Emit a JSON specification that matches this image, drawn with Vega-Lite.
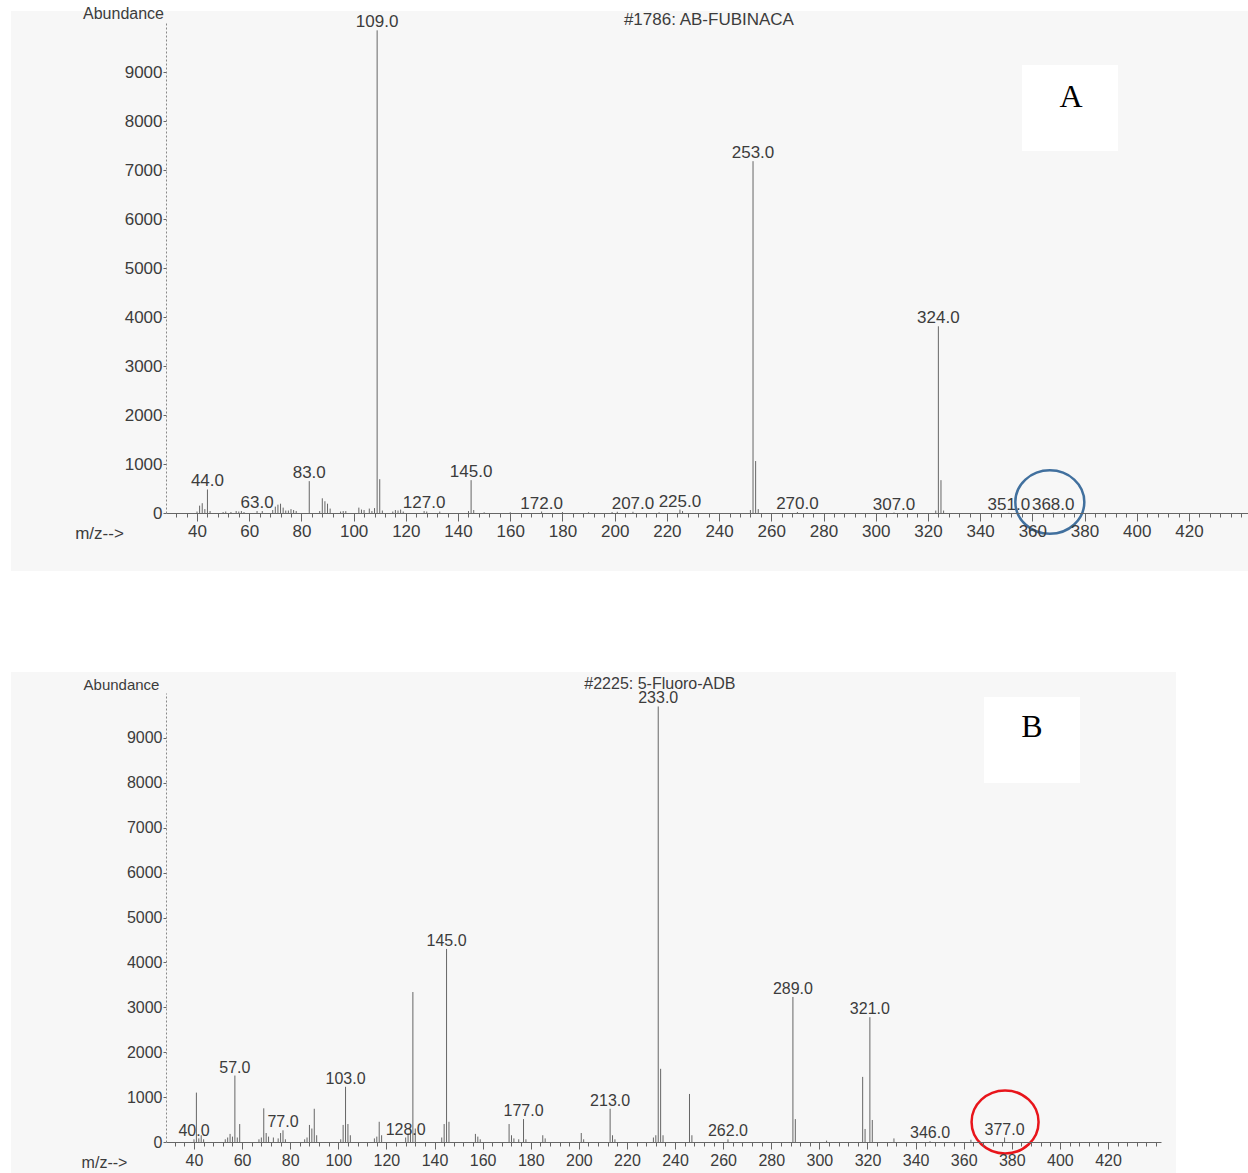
{
  "$schema": "https://vega.github.io/schema/vega-lite/v6.json",
  "background": "white",
  "padding": {"left": 10, "top": 5, "right": 0, "bottom": 0},
  "spacing": 99,
  "config": {
    "font": "Liberation Sans",
    "view": {"stroke": null},
    "axis": {"zindex": 2, "grid": false, "labelColor": "#3c3c3c", "titleColor": "#3c3c3c", "titleFontWeight": "normal", "tickColor": "#666", "domainColor": "#666"}
  },
  "datasets": {
    "a": [
      {"mz": 40, "ab": 30}, {"mz": 41, "ab": 150}, {"mz": 42, "ab": 200}, {"mz": 43, "ab": 80},
      {"mz": 44, "ab": 480, "label": "44.0"}, {"mz": 45, "ab": 40}, {"mz": 50, "ab": 20}, {"mz": 51, "ab": 30},
      {"mz": 53, "ab": 20}, {"mz": 55, "ab": 40}, {"mz": 56, "ab": 30}, {"mz": 57, "ab": 40}, {"mz": 58, "ab": 20},
      {"mz": 63, "ab": 40, "label": "63.0"}, {"mz": 65, "ab": 40}, {"mz": 69, "ab": 60}, {"mz": 70, "ab": 130},
      {"mz": 71, "ab": 170}, {"mz": 72, "ab": 190}, {"mz": 73, "ab": 110}, {"mz": 74, "ab": 50}, {"mz": 75, "ab": 50},
      {"mz": 76, "ab": 80}, {"mz": 77, "ab": 60}, {"mz": 78, "ab": 40}, {"mz": 83, "ab": 650, "label": "83.0"},
      {"mz": 87, "ab": 40}, {"mz": 88, "ab": 300}, {"mz": 89, "ab": 240}, {"mz": 90, "ab": 190}, {"mz": 91, "ab": 90},
      {"mz": 95, "ab": 30}, {"mz": 96, "ab": 40}, {"mz": 97, "ab": 40}, {"mz": 102, "ab": 110}, {"mz": 103, "ab": 70},
      {"mz": 104, "ab": 60}, {"mz": 106, "ab": 90}, {"mz": 107, "ab": 40}, {"mz": 108, "ab": 100},
      {"mz": 109, "ab": 9850, "label": "109.0"}, {"mz": 110, "ab": 690}, {"mz": 111, "ab": 50}, {"mz": 115, "ab": 30},
      {"mz": 116, "ab": 60}, {"mz": 117, "ab": 50}, {"mz": 118, "ab": 70}, {"mz": 119, "ab": 30},
      {"mz": 127, "ab": 40, "label": "127.0"}, {"mz": 128, "ab": 30}, {"mz": 133, "ab": 30}, {"mz": 144, "ab": 40},
      {"mz": 145, "ab": 670, "label": "145.0"}, {"mz": 146, "ab": 60}, {"mz": 150, "ab": 15}, {"mz": 160, "ab": 15},
      {"mz": 172, "ab": 30, "label": "172.0"}, {"mz": 180, "ab": 20}, {"mz": 190, "ab": 15}, {"mz": 199, "ab": 20},
      {"mz": 201, "ab": 25}, {"mz": 207, "ab": 25, "label": "207.0"}, {"mz": 217, "ab": 15},
      {"mz": 225, "ab": 70, "label": "225.0"}, {"mz": 226, "ab": 40}, {"mz": 252, "ab": 60},
      {"mz": 253, "ab": 7180, "label": "253.0"}, {"mz": 254, "ab": 1060}, {"mz": 255, "ab": 80},
      {"mz": 270, "ab": 20, "label": "270.0"}, {"mz": 307, "ab": 10, "label": "307.0"}, {"mz": 323, "ab": 50},
      {"mz": 324, "ab": 3810, "label": "324.0"}, {"mz": 325, "ab": 670}, {"mz": 326, "ab": 50},
      {"mz": 351, "ab": 5, "label": "351.0"}, {"mz": 368, "ab": 5, "label": "368.0"}
    ],
    "b": [
      {"mz": 40, "ab": 60, "label": "40.0"}, {"mz": 41, "ab": 1100}, {"mz": 42, "ab": 80}, {"mz": 43, "ab": 150},
      {"mz": 44, "ab": 60}, {"mz": 53, "ab": 60}, {"mz": 54, "ab": 100}, {"mz": 55, "ab": 180}, {"mz": 56, "ab": 120},
      {"mz": 57, "ab": 1480, "label": "57.0"}, {"mz": 58, "ab": 100}, {"mz": 59, "ab": 400}, {"mz": 67, "ab": 60},
      {"mz": 68, "ab": 100}, {"mz": 69, "ab": 750}, {"mz": 70, "ab": 200}, {"mz": 71, "ab": 120}, {"mz": 73, "ab": 100},
      {"mz": 75, "ab": 80}, {"mz": 76, "ab": 200}, {"mz": 77, "ab": 260, "label": "77.0"}, {"mz": 78, "ab": 60},
      {"mz": 86, "ab": 60}, {"mz": 87, "ab": 100}, {"mz": 88, "ab": 380}, {"mz": 89, "ab": 300}, {"mz": 90, "ab": 740},
      {"mz": 91, "ab": 150}, {"mz": 101, "ab": 60}, {"mz": 102, "ab": 380}, {"mz": 103, "ab": 1230, "label": "103.0"},
      {"mz": 104, "ab": 400}, {"mz": 105, "ab": 150}, {"mz": 115, "ab": 80}, {"mz": 116, "ab": 120}, {"mz": 117, "ab": 450},
      {"mz": 118, "ab": 150}, {"mz": 128, "ab": 100, "label": "128.0"}, {"mz": 129, "ab": 200}, {"mz": 130, "ab": 300},
      {"mz": 131, "ab": 3340}, {"mz": 132, "ab": 300}, {"mz": 143, "ab": 100}, {"mz": 144, "ab": 400},
      {"mz": 145, "ab": 4300, "label": "145.0"}, {"mz": 146, "ab": 450}, {"mz": 157, "ab": 180}, {"mz": 158, "ab": 120},
      {"mz": 159, "ab": 60}, {"mz": 171, "ab": 400}, {"mz": 172, "ab": 150}, {"mz": 173, "ab": 80}, {"mz": 175, "ab": 60},
      {"mz": 177, "ab": 510, "label": "177.0"}, {"mz": 178, "ab": 60}, {"mz": 185, "ab": 150}, {"mz": 186, "ab": 80},
      {"mz": 201, "ab": 200}, {"mz": 202, "ab": 60}, {"mz": 213, "ab": 740, "label": "213.0"}, {"mz": 214, "ab": 150},
      {"mz": 215, "ab": 60}, {"mz": 231, "ab": 100}, {"mz": 232, "ab": 150}, {"mz": 233, "ab": 9700, "label": "233.0"},
      {"mz": 234, "ab": 1630}, {"mz": 235, "ab": 150}, {"mz": 246, "ab": 1070}, {"mz": 247, "ab": 150},
      {"mz": 262, "ab": 60, "label": "262.0"}, {"mz": 289, "ab": 3230, "label": "289.0"}, {"mz": 290, "ab": 510},
      {"mz": 303, "ab": 30}, {"mz": 318, "ab": 1450}, {"mz": 319, "ab": 290}, {"mz": 321, "ab": 2780, "label": "321.0"},
      {"mz": 322, "ab": 490}, {"mz": 331, "ab": 80}, {"mz": 346, "ab": 20, "label": "346.0"}, {"mz": 363, "ab": 50},
      {"mz": 377, "ab": 100, "label": "377.0"}
    ]
  },
  "vconcat": [
    {
      "width": 1083,
      "height": 490,
      "resolve": {"axis": {"x": "independent", "y": "independent"}},
      "layer": [
        {
          "data": {"values": [{}]},
          "mark": {"type": "rect", "fill": "#f7f7f7", "zindex": 0},
          "encoding": {
            "x": {"datum": -31.26, "type": "quantitative", "scale": {"domain": [28.12, 443], "nice": false, "zero": false}, "axis": null},
            "x2": {"datum": 442.9},
            "y": {"datum": -1184, "type": "quantitative", "scale": {"domain": [0, 10000], "nice": false, "zero": false}, "axis": null},
            "y2": {"datum": 10245}
          }
        },
        {
          "data": {"values": [{}]},
          "mark": {"type": "rect", "fill": "white"},
          "encoding": {
            "x": {"datum": 356.0, "type": "quantitative", "scale": {"domain": [28.12, 443], "nice": false, "zero": false}, "axis": null},
            "x2": {"datum": 392.8},
            "y": {"datum": 7388, "type": "quantitative", "scale": {"domain": [0, 10000], "nice": false, "zero": false}, "axis": null},
            "y2": {"datum": 9143}
          }
        },
        {
          "data": {"name": "a"},
          "mark": {"type": "rule", "color": "#666", "strokeWidth": 1},
          "encoding": {
            "x": {"field": "mz", "type": "quantitative", "scale": {"domain": [28.12, 443], "nice": false, "zero": false},
              "axis": {"zindex": 2, "orient": "bottom", "values": [40,60,80,100,120,140,160,180,200,220,240,260,280,300,320,340,360,380,400,420], "tickSize": 8, "labelPadding": 2, "labelFontSize": 17, "title": "m/z-->", "titleFontSize": 17, "titleAlign": "center", "titleBaseline": "middle", "titleX": -67, "titleY": 20}},
            "y": {"field": "ab", "type": "quantitative", "scale": {"domain": [0, 10000], "nice": false, "zero": false},
              "axis": {"zindex": 2, "orient": "left", "format": "d", "values": [0,1000,2000,3000,4000,5000,6000,7000,8000,9000], "tickSize": 3, "labelPadding": 1, "labelFontSize": 17, "domainDash": [2, 2], "domainColor": "#888", "title": "Abundance", "titleFontSize": 16, "titleAngle": 0, "titleAlign": "center", "titleBaseline": "middle", "titleX": -43, "titleY": -10}},
            "y2": {"datum": 0}
          }
        },
        {
          "data": {"name": "a"},
          "transform": [{"filter": "datum.label"}],
          "mark": {"type": "text", "baseline": "alphabetic", "dy": -3, "fontSize": 17, "color": "#3c3c3c"},
          "encoding": {
            "x": {"field": "mz", "type": "quantitative", "scale": {"domain": [28.12, 443], "nice": false, "zero": false},
              "axis": {"zindex": 2, "orient": "bottom", "values": [32,36,40,44,48,52,56,60,64,68,72,76,80,84,88,92,96,100,104,108,112,116,120,124,128,132,136,140,144,148,152,156,160,164,168,172,176,180,184,188,192,196,200,204,208,212,216,220,224,228,232,236,240,244,248,252,256,260,264,268,272,276,280,284,288,292,296,300,304,308,312,316,320,324,328,332,336,340,344,348,352,356,360,364,368,372,376,380,384,388,392,396,400,404,408,412,416,420,424,428,432,436,440], "labels": false, "domain": false, "tickSize": 4, "title": null}},
            "y": {"field": "ab", "type": "quantitative", "scale": {"domain": [0, 10000], "nice": false, "zero": false}, "axis": null},
            "text": {"field": "label"}
          }
        },
        {
          "data": {"values": [{}]},
          "mark": {"type": "text", "text": "#1786: AB-FUBINACA", "fontSize": 17, "color": "#3c3c3c", "baseline": "middle"},
          "encoding": {
            "x": {"datum": 236.1, "type": "quantitative", "scale": {"domain": [28.12, 443], "nice": false, "zero": false}, "axis": null},
            "y": {"datum": 10061, "type": "quantitative", "scale": {"domain": [0, 10000], "nice": false, "zero": false}, "axis": null}
          }
        },
        {
          "data": {"values": [{}]},
          "mark": {"type": "text", "text": "A", "font": "Liberation Serif", "fontSize": 32, "color": "black", "baseline": "middle"},
          "encoding": {
            "x": {"datum": 374.8, "type": "quantitative", "scale": {"domain": [28.12, 443], "nice": false, "zero": false}, "axis": null},
            "y": {"datum": 8490, "type": "quantitative", "scale": {"domain": [0, 10000], "nice": false, "zero": false}, "axis": null}
          }
        },
        {
          "data": {"values": [{}]},
          "mark": {"type": "point", "shape": "M-1,0A1,0.92,0,1,1,1,0A1,0.92,0,1,1,-1,0Z", "size": 4761, "filled": false, "stroke": "#41709e", "strokeWidth": 2.5, "opacity": 1},
          "encoding": {
            "x": {"datum": 366.7, "type": "quantitative", "scale": {"domain": [28.12, 443], "nice": false, "zero": false}, "axis": null},
            "y": {"datum": 224, "type": "quantitative", "scale": {"domain": [0, 10000], "nice": false, "zero": false}, "axis": null}
          }
        }
      ]
    },
    {
      "width": 995,
      "height": 449,
      "resolve": {"axis": {"x": "independent", "y": "independent"}},
      "layer": [
        {
          "data": {"values": [{}]},
          "mark": {"type": "rect", "fill": "#f7f7f7", "zindex": 0},
          "encoding": {
            "x": {"datum": -36.08, "type": "quantitative", "scale": {"domain": [28.36, 442.03], "nice": false, "zero": false}, "axis": null},
            "x2": {"datum": 448.3},
            "y": {"datum": -730, "type": "quantitative", "scale": {"domain": [0, 10000], "nice": false, "zero": false}, "axis": null},
            "y2": {"datum": 10470}
          }
        },
        {
          "data": {"values": [{}]},
          "mark": {"type": "rect", "fill": "white"},
          "encoding": {
            "x": {"datum": 368.4, "type": "quantitative", "scale": {"domain": [28.36, 442.03], "nice": false, "zero": false}, "axis": null},
            "x2": {"datum": 408.4},
            "y": {"datum": 7997, "type": "quantitative", "scale": {"domain": [0, 10000], "nice": false, "zero": false}, "axis": null},
            "y2": {"datum": 9913}
          }
        },
        {
          "data": {"name": "b"},
          "mark": {"type": "rule", "color": "#666", "strokeWidth": 1},
          "encoding": {
            "x": {"field": "mz", "type": "quantitative", "scale": {"domain": [28.36, 442.03], "nice": false, "zero": false},
              "axis": {"zindex": 2, "orient": "bottom", "values": [40,60,80,100,120,140,160,180,200,220,240,260,280,300,320,340,360,380,400,420], "tickSize": 7, "labelPadding": 3, "labelFontSize": 16, "title": "m/z-->", "titleFontSize": 16, "titleAlign": "center", "titleBaseline": "middle", "titleX": -62, "titleY": 20}},
            "y": {"field": "ab", "type": "quantitative", "scale": {"domain": [0, 10000], "nice": false, "zero": false},
              "axis": {"zindex": 2, "orient": "left", "format": "d", "values": [0,1000,2000,3000,4000,5000,6000,7000,8000,9000], "tickSize": 3, "labelPadding": 1, "labelFontSize": 16, "domainDash": [2, 2], "domainColor": "#888", "title": "Abundance", "titleFontSize": 15, "titleAngle": 0, "titleAlign": "center", "titleBaseline": "middle", "titleX": -45, "titleY": -9}},
            "y2": {"datum": 0}
          }
        },
        {
          "data": {"name": "b"},
          "transform": [{"filter": "datum.label"}],
          "mark": {"type": "text", "baseline": "alphabetic", "dy": -3, "fontSize": 16, "color": "#3c3c3c"},
          "encoding": {
            "x": {"field": "mz", "type": "quantitative", "scale": {"domain": [28.36, 442.03], "nice": false, "zero": false},
              "axis": {"zindex": 2, "orient": "bottom", "values": [32,36,40,44,48,52,56,60,64,68,72,76,80,84,88,92,96,100,104,108,112,116,120,124,128,132,136,140,144,148,152,156,160,164,168,172,176,180,184,188,192,196,200,204,208,212,216,220,224,228,232,236,240,244,248,252,256,260,264,268,272,276,280,284,288,292,296,300,304,308,312,316,320,324,328,332,336,340,344,348,352,356,360,364,368,372,376,380,384,388,392,396,400,404,408,412,416,420,424,428,432,436,440], "labels": false, "domain": false, "tickSize": 4, "title": null}},
            "y": {"field": "ab", "type": "quantitative", "scale": {"domain": [0, 10000], "nice": false, "zero": false}, "axis": null},
            "text": {"field": "label"}
          }
        },
        {
          "data": {"values": [{}]},
          "mark": {"type": "text", "text": "#2225: 5-Fluoro-ADB", "fontSize": 16, "color": "#3c3c3c", "baseline": "middle"},
          "encoding": {
            "x": {"datum": 233.7, "type": "quantitative", "scale": {"domain": [28.36, 442.03], "nice": false, "zero": false}, "axis": null},
            "y": {"datum": 10203, "type": "quantitative", "scale": {"domain": [0, 10000], "nice": false, "zero": false}, "axis": null}
          }
        },
        {
          "data": {"values": [{}]},
          "mark": {"type": "text", "text": "B", "font": "Liberation Serif", "fontSize": 32, "color": "black", "baseline": "middle"},
          "encoding": {
            "x": {"datum": 388.4, "type": "quantitative", "scale": {"domain": [28.36, 442.03], "nice": false, "zero": false}, "axis": null},
            "y": {"datum": 9245, "type": "quantitative", "scale": {"domain": [0, 10000], "nice": false, "zero": false}, "axis": null}
          }
        },
        {
          "data": {"values": [{}]},
          "mark": {"type": "point", "shape": "M-1,0A1,0.94,0,1,1,1,0A1,0.94,0,1,1,-1,0Z", "size": 4489, "filled": false, "stroke": "#e8151b", "strokeWidth": 2.5, "opacity": 1},
          "encoding": {
            "x": {"datum": 377.2, "type": "quantitative", "scale": {"domain": [28.36, 442.03], "nice": false, "zero": false}, "axis": null},
            "y": {"datum": 446, "type": "quantitative", "scale": {"domain": [0, 10000], "nice": false, "zero": false}, "axis": null}
          }
        }
      ]
    }
  ]
}
